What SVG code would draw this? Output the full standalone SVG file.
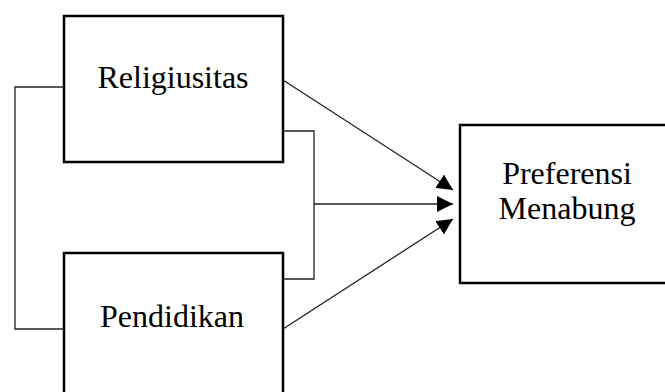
<svg xmlns="http://www.w3.org/2000/svg" width="665" height="392" viewBox="0 0 665 392">
<style>
.box{fill:#fff;stroke:#000;stroke-width:2.5}
.ln{fill:none;stroke:#222;stroke-width:1.3}
.t{font-family:"Liberation Serif","Times New Roman",serif;font-size:32px;fill:#000;text-anchor:middle}
</style>
<defs>
<marker id="ah" viewBox="0 0 10 10" refX="10" refY="5" markerWidth="16" markerHeight="16" markerUnits="userSpaceOnUse" orient="auto">
<path d="M0,0 L10,5 L0,10 Z" fill="#000"/>
</marker>
</defs>
<rect width="665" height="392" fill="#fff"/>
<g id="connectors">
<polyline class="ln" points="63,87 15,87 15,329 63,329"/>
<polyline class="ln" points="283,131 314,131 314,279 283,279"/>
<line class="ln" x1="314" y1="204" x2="453" y2="204" marker-end="url(#ah)"/>
<line class="ln" x1="283" y1="80" x2="453" y2="190" marker-end="url(#ah)"/>
<line class="ln" x1="283" y1="329" x2="453" y2="219" marker-end="url(#ah)"/>
</g>
<g id="religiusitas">
<rect class="box" x="64" y="16" width="219" height="146"/>
<text class="t" x="173" y="88">Religiusitas</text>
</g>
<g id="pendidikan">
<rect class="box" x="64" y="253" width="219" height="160"/>
<text class="t" x="172" y="327">Pendidikan</text>
</g>
<g id="preferensi">
<rect class="box" x="460" y="125" width="230" height="158"/>
<text class="t" x="567" y="184">Preferensi</text>
<text class="t" x="567" y="219">Menabung</text>
</g>
</svg>
